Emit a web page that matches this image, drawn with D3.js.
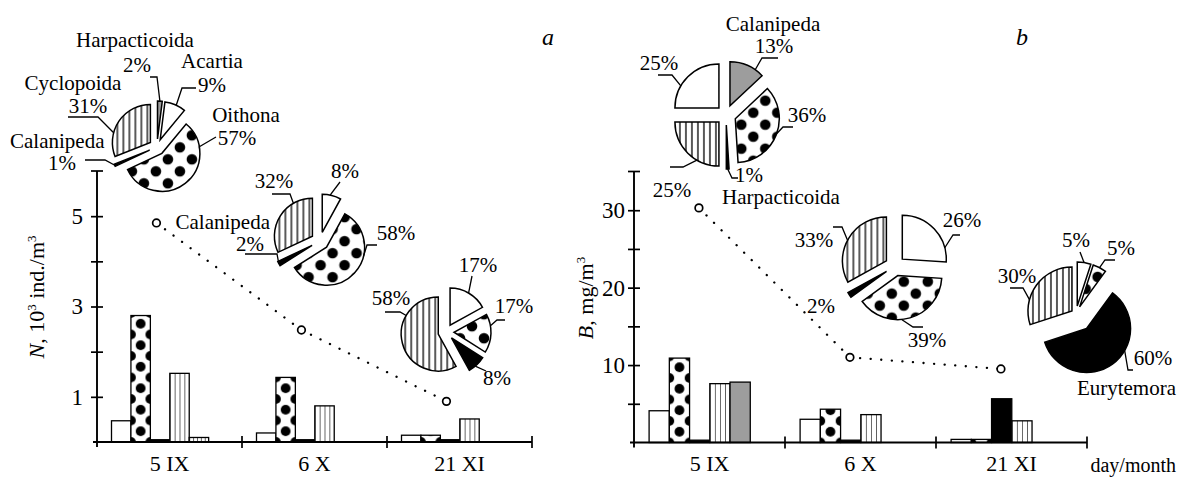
<!DOCTYPE html>
<html><head><meta charset="utf-8">
<script src="https://cdn.jsdelivr.net/npm/d3@7"></script>
<style>
body{margin:0;background:#fff}
svg text{font-family:"Liberation Serif","Times New Roman",Tinos,serif;font-size:21px;fill:#000}
</style>
</head><body>
<svg id="chart" width="1180" height="480"></svg>
<script>
// ---------------- DATA ----------------
const categories = ["5 IX", "6 X", "21 XI"];

// Panel a: abundance N, 10^3 ind./m^3
const seriesA = ["Acartia", "Oithona", "Calanipeda", "Cyclopoida", "Harpacticoida"];
const acartiaN = [0.47, 0.20, 0.15];
const oithonaN = [2.80, 1.43, 0.15];
const calanipedaN = [0.05, 0.05, 0.05];
const cyclopoidaN = [1.52, 0.80, 0.51];
const harpacticoidaN = [0.10, 0, 0];
const totalN = [4.85, 2.48, 0.90];
const yTicksA = [1, 2, 3, 4, 5];
const yLabelsA = [1, 3, 5];

// Panel b: biomass B, mg/m^3
const seriesB = ["Acartia", "Oithona", "Eurytemora", "Cyclopoida", "Calanipeda"];
const acartiaB = [4.1, 3.0, 0.4];
const oithonaB = [10.9, 4.3, 0.4];
const eurytemoraB = [0.3, 0.3, 5.65];
const cyclopoidaB = [7.6, 3.6, 2.8];
const calanipedaB = [7.8, 0, 0];
const totalB = [30.3, 11.0, 9.5];
const yTicksB = [5, 10, 15, 20, 25, 30];
const yLabelsB = [10, 20, 30];

// Pie shares, % (clockwise from 12 o'clock)
const pieA1Names = ["Harpacticoida", "Acartia", "Oithona", "Calanipeda", "Cyclopoida"];
const pieA1Values = [2, 9, 57, 1, 31];
const pieA2Names = ["Acartia", "Oithona", "Calanipeda", "Cyclopoida"];
const pieA2Values = [8, 58, 2, 32];
const pieA3Names = ["Acartia", "Oithona", "Calanipeda", "Cyclopoida"];
const pieA3Values = [17, 17, 8, 58];
const pieB1Names = ["Calanipeda", "Oithona", "Harpacticoida", "Cyclopoida", "Acartia"];
const pieB1Values = [13, 36, 1, 25, 25];
const pieB2Names = ["Acartia", "Oithona", "Eurytemora", "Cyclopoida"];
const pieB2Values = [26, 39, 2, 33];
const pieB3Names = ["Acartia", "Oithona", "Eurytemora", "Cyclopoida"];
const pieB3Values = [5, 5, 60, 30];

// ---------------- STYLE / LAYOUT ----------------
const fillA = {Acartia:"white", Oithona:"dots", Calanipeda:"black", Cyclopoida:"stripes", Harpacticoida:"gray"};
const fillB = {Acartia:"white", Oithona:"dots", Calanipeda:"gray", Cyclopoida:"stripes", Harpacticoida:"black", Eurytemora:"black"};
const barFillA = ["white", "dots", "black", "stripes", "stripesFine"];
const barFillB = ["white", "dots", "black", "stripes", "gray"];

const svg = d3.select("#chart");
const defs = svg.append("defs");

(function(){
  const pd = defs.append("pattern").attr("id","pieDots").attr("patternUnits","userSpaceOnUse")
    .attr("width",24).attr("height",24);
  pd.append("rect").attr("width",24).attr("height",24).attr("fill","#fff");
  pd.append("circle").attr("cx",6).attr("cy",6).attr("r",5.3).attr("fill","#000");
  pd.append("circle").attr("cx",18).attr("cy",18).attr("r",5.3).attr("fill","#000");
  const ps = defs.append("pattern").attr("id","pieStripes").attr("patternUnits","userSpaceOnUse")
    .attr("width",6).attr("height",10);
  ps.append("rect").attr("width",6).attr("height",10).attr("fill","#fff");
  ps.append("line").attr("x1",3).attr("x2",3).attr("y1",0).attr("y2",10)
    .attr("stroke","#000").attr("stroke-width",1.3);
})();

function solid(k){
  return k==="white" ? "#fff" : k==="black" ? "#000" : k==="gray" ? "#9d9d9d" : null;
}

function drawPanel(cfg){
  const g = svg.append("g");
  const y = d3.scaleLinear().domain([0, cfg.max]).range([cfg.yBase, cfg.yTop]);
  const x0 = d3.scaleBand().domain(categories).range([cfg.axisX, cfg.endX]);
  const bw = x0.bandwidth();
  const x1 = d3.scaleBand().domain(cfg.series).range([bw*0.1, bw*0.1 + bw*0.67]);
  const w = x1.bandwidth();

  const bars = [];
  cfg.series.forEach((s, si) => {
    cfg.values[si].forEach((v, ci) => {
      if (v > 0) bars.push({s, v, ci, x: x0(categories[ci]) + x1(s), fill: cfg.fills[si]});
    });
  });

  bars.forEach((b, k) => {
    const id = cfg.id + "-bar-" + k;
    let fill = solid(b.fill);
    if (b.fill === "dots") {
      const ph = 21.5;
      const p = defs.append("pattern").attr("id", id).attr("patternUnits","userSpaceOnUse")
        .attr("x", b.x).attr("y", cfg.yBase).attr("width", w).attr("height", ph);
      p.append("rect").attr("width", w).attr("height", ph).attr("fill","#fff");
      [[w/2, ph/2], [0,0], [w,0], [0,ph], [w,ph]].forEach(c =>
        p.append("circle").attr("cx", c[0]).attr("cy", c[1]).attr("r", 4.9).attr("fill","#000"));
      fill = "url(#" + id + ")";
    } else if (b.fill === "stripes" || b.fill === "stripesFine") {
      const sw = b.fill === "stripes" ? w/4 : w/5;
      const p = defs.append("pattern").attr("id", id).attr("patternUnits","userSpaceOnUse")
        .attr("x", b.x).attr("y", 0).attr("width", sw).attr("height", 10);
      p.append("rect").attr("width", sw).attr("height", 10).attr("fill","#fff");
      p.append("line").attr("x1",0).attr("x2",0).attr("y1",0).attr("y2",10)
        .attr("stroke","#000").attr("stroke-width",1.2);
      fill = "url(#" + id + ")";
    }
    b.fillStr = fill;
  });

  g.append("g").selectAll("rect").data(bars).join("rect")
    .attr("x", d => d.x).attr("y", d => y(d.v))
    .attr("width", w).attr("height", d => cfg.yBase - y(d.v))
    .attr("fill", d => d.fillStr).attr("stroke","#000").attr("stroke-width",1.3);

  // y axis (ticks cross the axis line)
  const yAxis = d3.axisLeft(y).tickValues(cfg.ticks).tickSize(6)
    .tickFormat(d => cfg.labels.includes(d) ? d : "");
  g.append("g").attr("transform", `translate(${cfg.axisX},0)`).call(yAxis)
    .attr("font-family", null).attr("font-size", null)
    .call(a => a.select(".domain").remove())
    .call(a => a.selectAll(".tick line").attr("x1",-6).attr("x2",6).attr("stroke","#000").attr("stroke-width",1.7))
    .call(a => a.selectAll(".tick text").attr("x", -cfg.labelGap).style("font-size","23px"));
  g.append("line").attr("x1",cfg.axisX).attr("x2",cfg.axisX).attr("y1",cfg.yBase+5).attr("y2",cfg.yTop)
    .attr("stroke","#000").attr("stroke-width",1.9);
  g.append("line").attr("x1",cfg.axisX-6).attr("x2",cfg.axisX+6).attr("y1",cfg.yTop).attr("y2",cfg.yTop)
    .attr("stroke","#000").attr("stroke-width",1.7);

  // x axis: baseline, band separators, category labels
  g.append("line").attr("x1",cfg.axisX-4).attr("x2",cfg.endX).attr("y1",cfg.yBase).attr("y2",cfg.yBase)
    .attr("stroke","#000").attr("stroke-width",1.9);
  g.append("g").selectAll("line").data(categories).join("line")
    .attr("x1", d => x0(d)+bw).attr("x2", d => x0(d)+bw)
    .attr("y1", cfg.yBase-6).attr("y2", cfg.yBase+6)
    .attr("stroke","#000").attr("stroke-width",1.7);
  g.append("g").attr("transform", `translate(0,${cfg.yBase})`)
    .call(d3.axisBottom(x0).tickSize(0).tickPadding(13))
    .attr("font-family", null).attr("font-size", null)
    .call(a => a.select(".domain").remove())
    .call(a => a.selectAll(".tick text").style("font-size","22px"));

  // totals dotted line
  const pts = cfg.totals.map((v,i) => [x0(categories[i]) + bw*cfg.totalPos, y(v)]);
  g.append("path").attr("d", d3.line()(pts)).attr("fill","none").attr("stroke","#000")
    .attr("stroke-width",2.3).attr("stroke-linecap","round").attr("stroke-dasharray","0.1 10.5");
  g.append("g").selectAll("circle").data(pts).join("circle")
    .attr("cx", d => d[0]).attr("cy", d => d[1]).attr("r", 3.8)
    .attr("fill","#fff").attr("stroke","#000").attr("stroke-width",1.7);

  const t = g.append("text").attr("transform", `translate(${cfg.titleX},${cfg.titleY}) rotate(-90)`)
    .attr("text-anchor","middle").style("font-size","22px");
  cfg.title(t);
}

drawPanel({
  id:"a", axisX:97, endX:532, yBase:442, yTop:171, max:6,
  ticks:yTicksA, labels:yLabelsA, labelGap:14,
  series:seriesA, values:[acartiaN, oithonaN, calanipedaN, cyclopoidaN, harpacticoidaN],
  fills:barFillA, totals:totalN, totalPos:0.41, titleX:44, titleY:297,
  title: t => {
    t.append("tspan").style("font-style","italic").text("N");
    t.append("tspan").text(", 10");
    t.append("tspan").attr("dy",-8).style("font-size","13px").text("3");
    t.append("tspan").attr("dy",8).text(" ind./m");
    t.append("tspan").attr("dy",-8).style("font-size","13px").text("3");
  }
});
drawPanel({
  id:"b", axisX:634, endX:1087, yBase:442.5, yTop:171.5, max:35,
  ticks:yTicksB, labels:yLabelsB, labelGap:9,
  series:seriesB, values:[acartiaB, oithonaB, eurytemoraB, cyclopoidaB, calanipedaB],
  fills:barFillB, totals:totalB, totalPos:0.43, titleX:593, titleY:298,
  title: t => {
    t.append("tspan").style("font-style","italic").text("B");
    t.append("tspan").text(", mg/m");
    t.append("tspan").attr("dy",-8).style("font-size","13px").text("3");
  }
});

// ---------------- PIES (exploded, with leader lines) ----------------
const pies = [
  {names:pieA1Names, values:pieA1Values, fills:fillA, cx:157, cy:147, r:38, ex:[8,8,8,8,8],
   lab:[
    {name:[135,47,"middle"], pct:[137,72,"middle"], a:3.6, pts:[[157,77],[150,77]]},
    {name:[212,68,"middle"], pct:[212,92,"middle"], a:25, pts:[[182,88],[196,88]]},
    {name:[246,122,"middle"], pct:[237,145,"middle"], a:80, pts:[[216,137]]},
    {name:[10,148,"start"], pct:[62,170,"middle"], a:246.6, pts:[[105,160],[85,160]]},
    {name:[73,90,"middle"], pct:[88,113,"middle"], a:285, pts:[[98,117],[68,117]]}
   ]},
  {names:pieA2Names, values:pieA2Values, fills:fillA, cx:320, cy:241, r:38, ex:[9,9,9,9],
   lab:[
    {pct:[345,178,"middle"], a:12, pts:[[340,182]]},
    {pct:[396,240,"middle"], a:104, pts:[[367,245],[377,245]]},
    {name:[270,229,"end"], pct:[250,251,"middle"], a:241.2, pts:[[277,254],[245,254]]},
    {pct:[274,188,"middle"], a:330, pts:[[290,194],[272,194]]}
   ]},
  {names:pieA3Names, values:pieA3Values, fills:fillA, cx:446, cy:332, r:37, ex:[8,8,8,8],
   lab:[
    {pct:[478,272,"middle"], a:30, pts:[[472,276]]},
    {pct:[514,313,"middle"], a:80, pts:[[497,320],[505,320]]},
    {pct:[497,385,"middle"], a:140, pts:[[486,371]]},
    {pct:[391,305,"middle"], a:300, pts:[[400,312],[385,312]]}
   ]},
  {names:pieB1Names, values:pieB1Values, fills:fillB, cx:726, cy:115, r:44, ex:[10,10,10,10,10],
   lab:[
    {name:[773,31,"middle"], pct:[774,53,"middle"], a:35, pts:[[762,58],[778,58]]},
    {pct:[807,122,"middle"], a:110, pts:[[783,127],[793,127]]},
    {pct:[749,182,"middle"], name:[781,204,"middle"], a:178.2, pts:[[732,178],[738,178]]},
    {pct:[672,197,"middle"], a:210, pts:[[683,167],[670,167]]},
    {pct:[659,70,"middle"], a:300, pts:[[672,75],[658,75]]}
   ]},
  {names:pieB2Names, values:pieB2Values, fills:fillB, cx:895, cy:266, r:44, ex:[10,10,10,10],
   lab:[
    {pct:[962,227,"middle"], a:75, pts:[[953,235],[960,235]]},
    {pct:[927,347,"middle"], a:175, pts:[[913,327],[923,327]]},
    {pct:[821,313,"middle"]},
    {pct:[814,247,"middle"], a:298, pts:[[842,227],[833,227]]}
   ]},
  {names:pieB3Names, values:pieB3Values, fills:fillB, cx:1076, cy:314, r:44, ex:[8,8,18,5],
   lab:[
    {pct:[1076,247,"middle"], a:9, pts:[[1080,252]]},
    {pct:[1121,255,"middle"], a:27, pts:[[1105,260],[1115,260]]},
    {pct:[1153,365,"middle"], name:[1176,395,"end"], a:120, pts:[[1128,370],[1133,370]]},
    {pct:[1017,283,"middle"], a:285, pts:[[1023,288],[1010,288]]}
   ]}
];

const rad = Math.PI/180;
pies.forEach(P => {
  const arcs = d3.pie().sort(null).value(d => d)(P.values);
  const arc = d3.arc().innerRadius(0).outerRadius(P.r);
  const g = svg.append("g");
  arcs.forEach((d, i) => {
    const mid = (d.startAngle + d.endAngle)/2;
    const ox = P.ex[i]*Math.sin(mid), oy = -P.ex[i]*Math.cos(mid);
    const key = P.fills[P.names[i]];
    const f = solid(key) || (key === "dots" ? "url(#pieDots)" : "url(#pieStripes)");
    g.append("path").attr("d", arc(d))
      .attr("transform", `translate(${P.cx+ox},${P.cy+oy})`)
      .attr("fill", f).attr("stroke","#000").attr("stroke-width",1.5);
    const L = P.lab[i];
    if (!L) return;
    if (L.a !== undefined) {
      const sx = P.cx + ox + P.r*Math.sin(L.a*rad), sy = P.cy + oy - P.r*Math.cos(L.a*rad);
      g.append("path").attr("d", d3.line()([[sx,sy]].concat(L.pts)))
        .attr("fill","none").attr("stroke","#000").attr("stroke-width",1.3);
    }
    if (L.pct) g.append("text").attr("x",L.pct[0]).attr("y",L.pct[1]).attr("text-anchor",L.pct[2])
      .text(P.values[i] + "%");
    if (L.name) g.append("text").attr("x",L.name[0]).attr("y",L.name[1]).attr("text-anchor",L.name[2])
      .text(P.names[i]);
  });
});

// panel letters and x unit
svg.append("text").attr("x",548).attr("y",45).attr("text-anchor","middle")
  .style("font-style","italic").style("font-size","24px").text("a");
svg.append("text").attr("x",1022).attr("y",45).attr("text-anchor","middle")
  .style("font-style","italic").style("font-size","24px").text("b");
svg.append("text").attr("x",1176).attr("y",472).attr("text-anchor","end")
  .style("font-size","20px").text("day/month");
</script>
</body></html>
